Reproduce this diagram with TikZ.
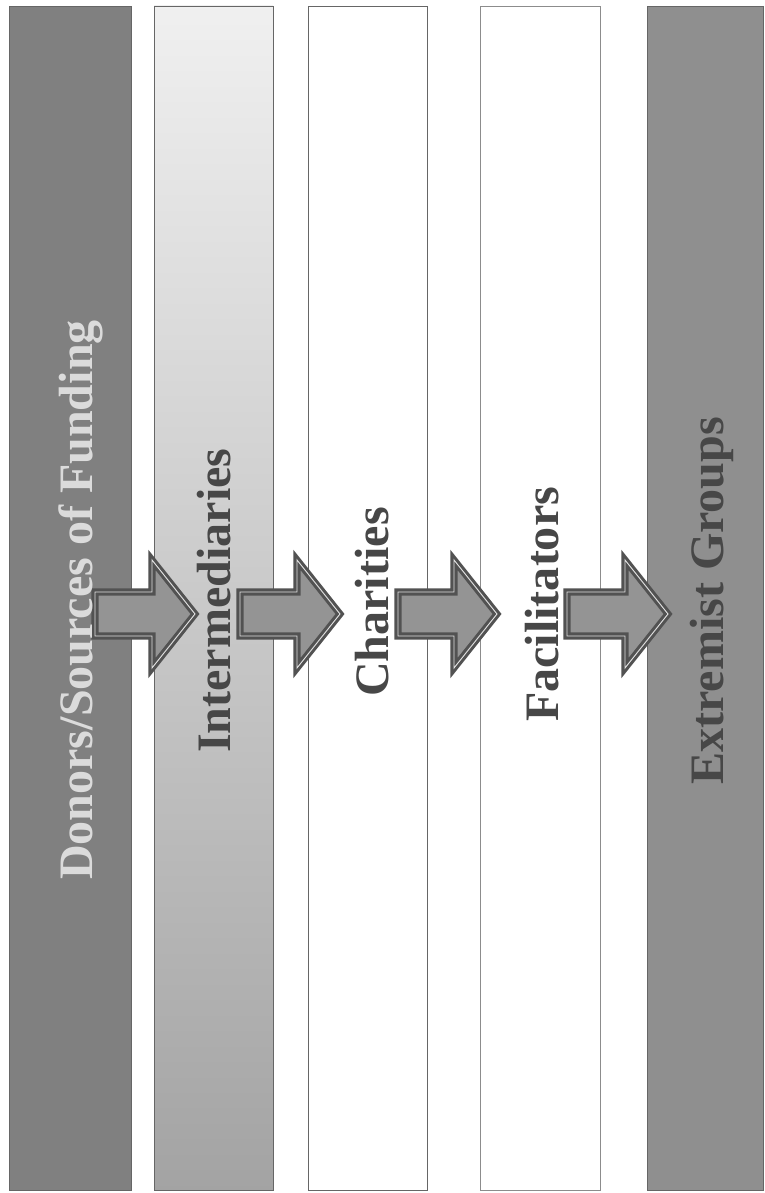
\documentclass[tikz,border=0pt]{standalone}
\usepackage{fontspec}
\setmainfont{Liberation Serif}
\tikzset{
  barframe/.style={draw=black!60, line width=0.8pt},
  flowarrow/.style={fill=black!42, draw=black!68, line width=6pt, line join=miter},
  flowarrowedge/.style={draw=black!12, line width=0.8pt, line join=miter},
  barlabel/.style={rotate=90, anchor=base west, inner sep=0pt, font=\fontsize{41pt}{41pt}\selectfont\bfseries}
}
\begin{document}
\begin{tikzpicture}
% funding chain, one bar per stage, arrows between the bars
\def\pxsz{0.3mm}
\providecommand{\chainDarkFill}{black!50}
\providecommand{\chainLastFill}{black!44}
\providecommand{\chainTextColor}{black!72}
\begin{scope}[x=\pxsz, y=\pxsz]
  \useasboundingbox (0,0) rectangle (764,1193);
  % Background
  \fill[white] (0,0) rectangle (764,1193);
  % Bars
  \fill[\chainDarkFill] (9,3) rectangle (131,1187);
  \shade[top color=black!6, bottom color=black!36] (154,3) rectangle (273,1187);
  \fill[white] (308,3) rectangle (427,1187);
  \fill[white] (480,3) rectangle (600,1187);
  \fill[\chainLastFill] (647,3) rectangle (763,1187);
  \begin{scope}[barframe]
    \draw (9,3) rectangle (131,1187);
    \draw (154,3) rectangle (273,1187);
    \draw (308,3) rectangle (427,1187);
    \draw[black!45] (480,3) rectangle (600,1187);
    \draw (647,3) rectangle (763,1187);
  \end{scope}
  % Arrows
  \draw[flowarrow] (95,557) -- (152,557) -- (152,525) -- (195,579) -- (152,633) -- (152,601) -- (95,601) -- cycle;
  \draw[flowarrow] (240,557) -- (297,557) -- (297,525) -- (340,579) -- (297,633) -- (297,601) -- (240,601) -- cycle;
  \draw[flowarrow] (398,557) -- (454,557) -- (454,525) -- (497,579) -- (454,633) -- (454,601) -- (398,601) -- cycle;
  \draw[flowarrow] (567,557) -- (625,557) -- (625,525) -- (668,579) -- (625,633) -- (625,601) -- (567,601) -- cycle;
  \begin{scope}[flowarrowedge]
    \draw (95,557) -- (152,557) -- (152,525) -- (195,579) -- (152,633) -- (152,601) -- (95,601) -- cycle;
    \draw (240,557) -- (297,557) -- (297,525) -- (340,579) -- (297,633) -- (297,601) -- (240,601) -- cycle;
    \draw (398,557) -- (454,557) -- (454,525) -- (497,579) -- (454,633) -- (454,601) -- (398,601) -- cycle;
    \draw (567,557) -- (625,557) -- (625,525) -- (668,579) -- (625,633) -- (625,601) -- (567,601) -- cycle;
  \end{scope}
  % Labels
  \node[barlabel, text=black!14] (donors) at (92,313) {Donors/Sources of Funding};
  \node[barlabel, text=\chainTextColor] (intermediaries) at (230,440) {Intermediaries};
  \node[barlabel, text=\chainTextColor] (charities) at (388,496) {Charities};
  \node[barlabel, text=\chainTextColor] (facilitators) at (558,471) {Facilitators};
  \node[barlabel, text=\chainTextColor] (extremists) at (723,408) {Extremist Groups};
\end{scope}
\end{tikzpicture}
\end{document}
